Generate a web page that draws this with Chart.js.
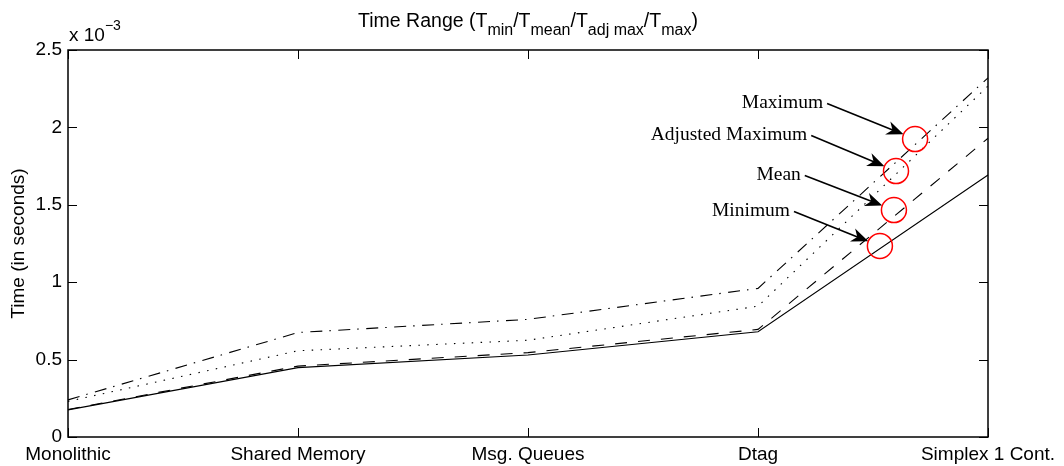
<!DOCTYPE html>
<html>
<head>
<meta charset="utf-8">
<script src="https://cdn.jsdelivr.net/npm/chart.js@4/dist/chart.umd.min.js"></script>
<style>
  html, body { margin: 0; padding: 0; background: #fff; }
  #wrap { width: 1064px; height: 466px; position: relative; }
</style>
</head>
<body>
<div id="wrap"><canvas id="c" width="1064" height="466"></canvas></div>
<script>
// ---- data (time values in units of 10^-3 seconds) ----
const categories = ['Monolithic', 'Shared Memory', 'Msg. Queues', 'Dtag', 'Simplex 1 Cont.'];
const tMin    = [0.175, 0.448, 0.530, 0.680, 1.693];
const tMean   = [0.178, 0.458, 0.545, 0.695, 1.930];
const tAdjMax = [0.230, 0.557, 0.625, 0.845, 2.267];
const tMax    = [0.240, 0.675, 0.760, 0.960, 2.320];
const yTicks  = [0, 0.5, 1, 1.5, 2, 2.5];
const yTickLabels = ['0', '0.5', '1', '1.5', '2', '2.5'];

// annotation labels: text, circle centre (category index, value), label anchor (category index, value)
const annoText   = ['Maximum', 'Adjusted Maximum', 'Mean', 'Minimum'];
const annoCircle = [[3.683, 1.925], [3.600, 1.718], [3.591, 1.466], [3.530, 1.234]];
const annoLabel  = [[3.283, 2.125], [3.214, 1.919], [3.186, 1.660], [3.139, 1.428]];

const SANS = '"Liberation Sans", Arial, Helvetica, sans-serif';
const SERIF = '"Liberation Serif", "Times New Roman", serif';

function seg(ctx, x1, y1, x2, y2) { ctx.beginPath(); ctx.moveTo(x1, y1); ctx.lineTo(x2, y2); ctx.stroke(); }

const decor = {
  id: 'decor',
  afterDatasetsDraw(chart) {
    const { ctx, chartArea: a, scales: { x, y } } = chart;
    ctx.save();
    ctx.strokeStyle = '#000';
    ctx.fillStyle = '#000';
    ctx.setLineDash([]);
    // box
    ctx.lineWidth = 1.5;
    ctx.strokeRect(a.left, a.top, a.right - a.left, a.bottom - a.top);
    // inward ticks
    ctx.lineWidth = 1;
    yTicks.forEach(v => {
      const py = Math.round(y.getPixelForValue(v)) + 0.5;
      seg(ctx, a.left, py, a.left + 9, py);
      seg(ctx, a.right, py, a.right - 9, py);
    });
    categories.forEach((c, i) => {
      const px = Math.round(x.getPixelForValue(i)) + 0.5;
      seg(ctx, px, a.bottom, px, a.bottom - 9);
      seg(ctx, px, a.top, px, a.top + 9);
    });

    // title with subscripts
    const parts = [['Time Range (T', 0], ['min', 1], ['/T', 0], ['mean', 1], ['/T', 0], ['adj max', 1], ['/T', 0], ['max', 1], [')', 0]];
    const mainF = '19.5px ' + SANS, subF = '16px ' + SANS;
    let total = 0;
    parts.forEach(p => { ctx.font = p[1] ? subF : mainF; total += ctx.measureText(p[0]).width; });
    let tx = (a.left + a.right) / 2 - total / 2;
    ctx.textBaseline = 'alphabetic';
    ctx.textAlign = 'left';
    parts.forEach(p => {
      ctx.font = p[1] ? subF : mainF;
      ctx.fillText(p[0], tx, p[1] ? 35 : 27);
      tx += ctx.measureText(p[0]).width;
    });

    // exponent label
    ctx.font = '19px ' + SANS;
    ctx.fillText('x 10', a.left + 1, 41);
    const w10 = ctx.measureText('x 10').width;
    ctx.font = '14px ' + SANS;
    ctx.fillText('\u22123', a.left + 1 + w10, 30);

    // y axis title
    ctx.save();
    ctx.translate(19, (a.top + a.bottom) / 2);
    ctx.rotate(-Math.PI / 2);
    ctx.font = '19px ' + SANS;
    ctx.textAlign = 'center';
    ctx.textBaseline = 'middle';
    ctx.fillText('Time (in seconds)', 0, 0);
    ctx.restore();

    // annotations
    annoText.forEach((t, i) => {
      const cx = x.getPixelForValue(annoCircle[i][0]);
      const cy = y.getPixelForValue(annoCircle[i][1]);
      const lx = x.getPixelForValue(annoLabel[i][0]);
      const ly = y.getPixelForValue(annoLabel[i][1]);
      // label
      ctx.font = '19.5px ' + SERIF;
      ctx.textAlign = 'right';
      ctx.textBaseline = 'alphabetic';
      ctx.fillStyle = '#000';
      ctx.fillText(t, lx, ly);
      // arrow
      const sx = lx + 4, sy = ly - 4.5;
      const r = 12.5;
      const dx = cx - sx, dy = cy - sy, L = Math.hypot(dx, dy);
      const ux = dx / L, uy = dy / L;
      const tipX = cx - ux * r, tipY = cy - uy * r;
      const hl = 17, hw = 7;
      const bx = tipX - ux * hl, by = tipY - uy * hl;
      ctx.lineWidth = 1.6;
      ctx.strokeStyle = '#000';
      seg(ctx, sx, sy, bx + ux * 6, by + uy * 6);
      ctx.beginPath();
      ctx.moveTo(tipX, tipY);
      ctx.lineTo(bx - uy * hw, by + ux * hw);
      ctx.lineTo(tipX - ux * hl * 0.7, tipY - uy * hl * 0.7);
      ctx.lineTo(bx + uy * hw, by - ux * hw);
      ctx.closePath();
      ctx.fill();
      // circle
      ctx.strokeStyle = '#ff0000';
      ctx.lineWidth = 1.5;
      ctx.beginPath();
      ctx.arc(cx, cy, r, 0, Math.PI * 2);
      ctx.stroke();
    });
    ctx.restore();
  }
};

function ds(label, data, dash) {
  return {
    label, data,
    borderColor: '#000',
    backgroundColor: '#000',
    borderWidth: 1.1,
    borderDash: dash,
    pointRadius: 0,
    pointHoverRadius: 0,
    tension: 0,
    fill: false
  };
}

new Chart(document.getElementById('c'), {
  type: 'line',
  data: {
    labels: categories,
    datasets: [
      ds('Minimum', tMin, []),
      ds('Mean', tMean, [12, 11]),
      ds('Adjusted Maximum', tAdjMax, [1.5, 7.4]),
      ds('Maximum', tMax, [12, 7, 1.5, 7.5])
    ]
  },
  options: {
    responsive: false,
    animation: false,
    devicePixelRatio: 1,
    layout: { padding: { left: 0, right: 76, top: 50, bottom: 0 } },
    plugins: { legend: { display: false }, tooltip: { enabled: false }, title: { display: false } },
    events: [],
    scales: {
      x: {
        type: 'category',
        offset: false,
        grid: { display: false, drawTicks: false },
        border: { display: false },
        ticks: {
          color: '#000',
          font: { family: SANS, size: 19 },
          padding: 6,
          maxRotation: 0,
          minRotation: 0,
          autoSkip: false
        },
        afterFit(s) { s.height = 29; }
      },
      y: {
        min: 0,
        max: 2.5,
        grid: { display: false, drawTicks: false },
        border: { display: false },
        afterBuildTicks(s) { s.ticks = yTicks.map(v => ({ value: v })); },
        ticks: {
          color: '#000',
          font: { family: SANS, size: 19 },
          padding: 6,
          callback(v) { const i = yTicks.indexOf(v); return i >= 0 ? yTickLabels[i] : ''; }
        },
        afterFit(s) { s.width = 68; }
      }
    }
  },
  plugins: [decor]
});
</script>
</body>
</html>
